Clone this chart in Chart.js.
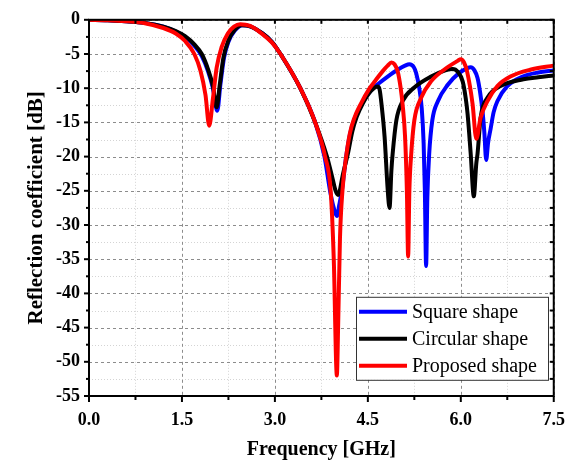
<!DOCTYPE html>
<html>
<head>
<meta charset="utf-8">
<script src="https://cdn.jsdelivr.net/npm/chart.js@4.4.1/dist/chart.umd.min.js"></script>
<style>
  html, body { margin: 0; padding: 0; background: #fff; }
</style>
</head>
<body>
<canvas id="chart" width="579" height="466"></canvas>
<script>
// values (frequency in GHz, S11 in dB)
const freqSquare = [0, 0.3, 0.6, 0.9, 1.2, 1.4, 1.55, 1.7, 1.82, 1.92, 2.0, 2.07, 2.12, 2.18, 2.25, 2.35, 2.48, 2.6, 2.8, 2.95, 3.09, 3.41, 3.65, 3.8, 3.89, 3.95, 4.0, 4.04, 4.08, 4.15, 4.21, 4.28, 4.4, 4.58, 4.69, 4.82, 4.98, 5.1, 5.17, 5.24, 5.28, 5.33, 5.37, 5.4, 5.42, 5.44, 5.46, 5.49, 5.54, 5.63, 5.79, 5.97, 6.1, 6.16, 6.22, 6.27, 6.31, 6.35, 6.38, 6.41, 6.44, 6.48, 6.53, 6.59, 6.75, 7.0, 7.25, 7.5];
const s11Square = [0, -0.05, -0.2, -0.45, -1.0, -1.7, -2.5, -3.8, -5.3, -7.5, -10, -13.3, -9.5, -5.5, -3.2, -1.6, -0.8, -0.95, -2.0, -3.2, -5, -10, -15, -20, -25, -27.5, -28.7, -27, -25, -20, -16.8, -14.6, -12.3, -10, -9.2, -8.3, -7.3, -6.7, -6.5, -6.9, -7.8, -10, -13, -18, -25, -36, -26, -19.6, -14.7, -11.9, -9.5, -7.8, -7.1, -6.95, -7.4, -8.5, -10.5, -13.3, -16.5, -20.5, -18, -16, -13.5, -11.9, -9.7, -8.3, -7.7, -7.4];

const freqCircular = [0, 0.3, 0.6, 0.9, 1.2, 1.4, 1.55, 1.7, 1.82, 1.92, 2.0, 2.06, 2.11, 2.17, 2.25, 2.35, 2.46, 2.6, 2.8, 2.95, 3.09, 3.41, 3.65, 3.84, 3.93, 3.98, 4.02, 4.1, 4.18, 4.25, 4.32, 4.42, 4.55, 4.66, 4.69, 4.72, 4.77, 4.82, 4.85, 4.88, 4.9, 4.96, 5.06, 5.25, 5.52, 5.75, 5.87, 5.95, 6.03, 6.08, 6.11, 6.16, 6.21, 6.25, 6.27, 6.32, 6.43, 6.64, 7.01, 7.25, 7.5];
const s11Circular = [0, -0.05, -0.2, -0.45, -1.0, -1.65, -2.4, -3.6, -5.0, -7.2, -9.7, -12.8, -9.5, -5.5, -3.0, -1.5, -0.8, -0.95, -2.0, -3.2, -5, -10, -15, -20, -23.2, -25, -25.6, -22.5, -19.5, -16.3, -14.2, -12.2, -10.4, -9.75, -10.2, -12.3, -17.1, -24.8, -27.5, -22, -19.6, -14.7, -11.9, -9.9, -8.3, -7.4, -7.2, -7.6, -9.0, -11.5, -13.8, -19.6, -25.8, -21, -19.6, -14.3, -11.4, -9.7, -8.7, -8.4, -8.15];

const freqProposed = [0, 0.3, 0.6, 0.9, 1.2, 1.4, 1.55, 1.7, 1.8, 1.88, 1.94, 2.0, 2.06, 2.14, 2.24, 2.34, 2.44, 2.6, 2.8, 2.95, 3.09, 3.41, 3.65, 3.81, 3.9, 3.95, 4.0, 4.02, 4.05, 4.09, 4.15, 4.21, 4.28, 4.38, 4.53, 4.62, 4.74, 4.82, 4.88, 4.93, 4.98, 5.03, 5.06, 5.1, 5.13, 5.15, 5.17, 5.2, 5.25, 5.36, 5.52, 5.73, 5.95, 6.0, 6.05, 6.1, 6.19, 6.25, 6.32, 6.43, 6.59, 6.8, 7.12, 7.5];
const s11Proposed = [0, -0.05, -0.2, -0.5, -1.2, -2.0, -3.1, -5.0, -7.5, -11, -15.5, -11.5, -7, -4, -2.0, -1.0, -0.65, -0.9, -2.1, -3.3, -5, -10, -15, -20, -25, -35, -52, -45, -32, -25, -20, -16.6, -14.4, -12.4, -10, -8.9, -7.5, -6.7, -6.25, -6.5, -7.5, -10, -12.3, -17, -25, -34.6, -25, -19.6, -14.7, -11.4, -9.0, -7.3, -6.0, -5.75, -6.2, -7.5, -12.3, -17.4, -14.3, -11.9, -9.7, -8.3, -7.3, -6.7];

const seriesNames = ['Square shape', 'Circular shape', 'Proposed shape'];
const seriesColors = ['#0000ff', '#000000', '#ff0000'];
const xTicks = [0, 1.5, 3.0, 4.5, 6.0, 7.5];
const yTicks = [0, -5, -10, -15, -20, -25, -30, -35, -40, -45, -50, -55];

const toPoints = (xs, ys) => xs.map((x, i) => ({ x: x, y: ys[i] }));

// grid, frame and Origin-style ticks
const framePlugin = {
  id: 'frame',
  beforeDatasetsDraw(chart) {
    const { ctx, chartArea: a, scales: { x, y } } = chart;
    ctx.save();
    ctx.lineWidth = 1;
    // minor grid
    ctx.strokeStyle = '#d4d4d4';
    ctx.setLineDash([1, 2]);
    for (let i = 0; i < xTicks.length - 1; i++) {
      const px = Math.round(x.getPixelForValue((xTicks[i] + xTicks[i + 1]) / 2)) + 0.5;
      ctx.beginPath(); ctx.moveTo(px, a.top); ctx.lineTo(px, a.bottom); ctx.stroke();
    }
    for (let i = 0; i < yTicks.length - 1; i++) {
      const py = Math.round(y.getPixelForValue((yTicks[i] + yTicks[i + 1]) / 2)) + 0.5;
      ctx.beginPath(); ctx.moveTo(a.left, py); ctx.lineTo(a.right, py); ctx.stroke();
    }
    // major grid
    ctx.strokeStyle = '#8c8c8c';
    ctx.setLineDash([3, 3]);
    xTicks.forEach(v => {
      const px = Math.round(x.getPixelForValue(v)) + 0.5;
      ctx.beginPath(); ctx.moveTo(px, a.top); ctx.lineTo(px, a.bottom); ctx.stroke();
    });
    yTicks.forEach(v => {
      const py = Math.round(y.getPixelForValue(v)) + 0.5;
      ctx.beginPath(); ctx.moveTo(a.left, py); ctx.lineTo(a.right, py); ctx.stroke();
    });
    ctx.restore();
  },
  afterDatasetsDraw(chart) {
    const { ctx, chartArea: a, scales: { x, y } } = chart;
    ctx.save();
    ctx.strokeStyle = '#000';
    ctx.lineWidth = 2;
    ctx.setLineDash([]);
    ctx.strokeRect(a.left, a.top, a.right - a.left, a.bottom - a.top);
    const tick = (x1, y1, x2, y2) => { ctx.beginPath(); ctx.moveTo(x1, y1); ctx.lineTo(x2, y2); ctx.stroke(); };
    for (let i = 0; i < xTicks.length; i++) {
      const px = x.getPixelForValue(xTicks[i]);
      tick(px, a.bottom, px, a.bottom + 6);
      tick(px, a.top, px, a.top + 4);
      if (i < xTicks.length - 1) {
        const pm = x.getPixelForValue((xTicks[i] + xTicks[i + 1]) / 2);
        tick(pm, a.bottom, pm, a.bottom + 4);
        tick(pm, a.top, pm, a.top + 4);
      }
    }
    for (let i = 0; i < yTicks.length; i++) {
      const py = y.getPixelForValue(yTicks[i]);
      tick(a.left, py, a.left - 5, py);
      tick(a.right, py, a.right - 4, py);
      if (i < yTicks.length - 1) {
        const pm = y.getPixelForValue((yTicks[i] + yTicks[i + 1]) / 2);
        tick(a.left, pm, a.left - 3, pm);
        tick(a.right, pm, a.right - 4, pm);
      }
    }
    // legend box inside the plot
    const bx = a.left + 267, by = a.top + 277, bw = 192, bh = 83;
    ctx.fillStyle = '#fff';
    ctx.fillRect(bx, by, bw, bh);
    ctx.lineWidth = 1;
    ctx.strokeStyle = '#333';
    ctx.strokeRect(bx + 0.5, by + 0.5, bw, bh);
    ctx.font = '20px "Liberation Serif", "Times New Roman", serif';
    ctx.textBaseline = 'middle';
    chart.data.datasets.forEach((ds, i) => {
      const cy = by + 15 + i * 27;
      ctx.strokeStyle = ds.borderColor;
      ctx.lineWidth = 4;
      tick(bx + 3, cy, bx + 51, cy);
      ctx.fillStyle = '#000';
      ctx.fillText(ds.label, bx + 56, cy + 1);
    });
    ctx.restore();
  }
};

const tickFont = { family: '"Liberation Serif", "Times New Roman", serif', size: 18, weight: 'bold' };

new Chart(document.getElementById('chart'), {
  type: 'line',
  data: {
    datasets: [
      { label: seriesNames[0], data: toPoints(freqSquare, s11Square), borderColor: seriesColors[0], order: 2 },
      { label: seriesNames[1], data: toPoints(freqCircular, s11Circular), borderColor: seriesColors[1], order: 1 },
      { label: seriesNames[2], data: toPoints(freqProposed, s11Proposed), borderColor: seriesColors[2], order: 0 }
    ]
  },
  options: {
    responsive: false,
    animation: false,
    layout: { padding: { top: 14, right: 22, left: 0, bottom: 0 } },
    elements: {
      point: { radius: 0 },
      line: { borderWidth: 4, cubicInterpolationMode: 'monotone', borderJoinStyle: 'round', borderCapStyle: 'round', fill: false }
    },
    plugins: { legend: { display: false }, tooltip: { enabled: false } },
    scales: {
      x: {
        type: 'linear', min: 0, max: 7.5,
        afterBuildTicks: s => { s.ticks = xTicks.map(v => ({ value: v })); },
        afterFit: s => { s.height = 70; },
        ticks: { color: '#000', font: tickFont, padding: 14, maxRotation: 0, callback: v => v.toFixed(1) },
        grid: { display: false, drawTicks: false },
        border: { display: false },
        title: { display: true, text: 'Frequency [GHz]', color: '#000', padding: { top: 0, bottom: 4 },
                 font: { family: tickFont.family, size: 20, weight: 'bold' } }
      },
      y: {
        type: 'linear', min: -55, max: 0,
        afterBuildTicks: s => { s.ticks = yTicks.map(v => ({ value: v })); },
        afterFit: s => { s.width = 89; },
        ticks: { color: '#000', font: tickFont, padding: 9, callback: v => String(v) },
        grid: { display: false, drawTicks: false },
        border: { display: false },
        title: { display: true, text: 'Reflection coefficient [dB]', color: '#000', padding: { top: 24, bottom: 0 },
                 font: { family: tickFont.family, size: 21, weight: 'bold' } }
      }
    }
  },
  plugins: [framePlugin]
});
</script>
</body>
</html>
